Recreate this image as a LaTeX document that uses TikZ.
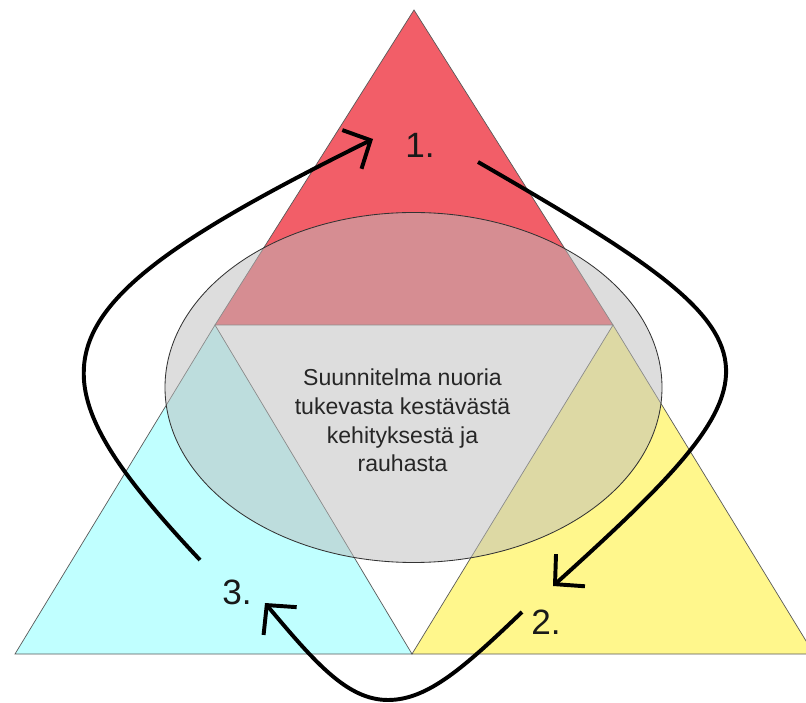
\documentclass[tikz,border=0pt]{standalone}
\usepackage{fontspec}
\setmainfont{Liberation Sans}
\usetikzlibrary{arrows.meta}
\definecolor{redtri}{RGB}{242,94,104}
\definecolor{cyantri}{RGB}{192,255,255}
\definecolor{yellowtri}{RGB}{255,247,140}
\definecolor{ovalgray}{RGB}{188,188,188}

\begin{document}
\begin{tikzpicture}[x=0.025cm,y=0.025cm,
  tri/.style={draw=black!65,line width=0.5pt},
  bigarrow/.style={black,line width=2.8pt,-{Straight Barb[length=0.52cm,width=1.08cm]}},
  num/.style={font=\fontsize{25}{30}\selectfont,text=black!90}]

\clip (0,0) rectangle (806,702);

\coordinate(A) at (414,692);
\coordinate(B) at (215,377);
\coordinate(C) at (613,377);
\coordinate(D) at (15,48);
\coordinate(E) at (412,48);
\coordinate(F) at (814,48);

\filldraw[tri,fill=redtri] (A)--(B)--(C)--cycle;
\filldraw[tri,fill=cyantri] (B)--(D)--(E)--cycle;
\filldraw[tri,fill=yellowtri] (C)--(E)--(F)--cycle;

\filldraw[draw=black!80,line width=0.6pt,fill=ovalgray,fill opacity=0.5] (413.5,314.5) ellipse [x radius=248.5,y radius=175];

\node[align=center,text=black!85,font=\fontsize{16.4}{20.4}\selectfont] (plan) at (402.5,281.5) {Suunnitelma nuoria\\tukevasta kestävästä\\kehityksestä ja\\rauhasta};

\node[num] (n1) at (420,557) {1.};
\node[num] (n2) at (546,80) {2.};
\node[num] (n3) at (237,110) {3.};

\coordinate (s1) at (478,540);
\coordinate (t1) at (373,563);
\coordinate (s2) at (522,90);
\coordinate (t2) at (553,116);
\coordinate (s3) at (200,142);
\coordinate (t3) at (265,99);
\coordinate (b) at (388,2);

\draw[bigarrow] (s3) .. controls (18,336) and (32,394) .. (t1);
\draw[bigarrow] (s1) .. controls (790,360) and (798,337) .. (t2);
\draw[bigarrow] (s2) .. controls (464.5,35) and (428,2) .. (b) .. controls (348,2) and (316.4,37.7) .. (t3);

\end{tikzpicture}
\end{document}
